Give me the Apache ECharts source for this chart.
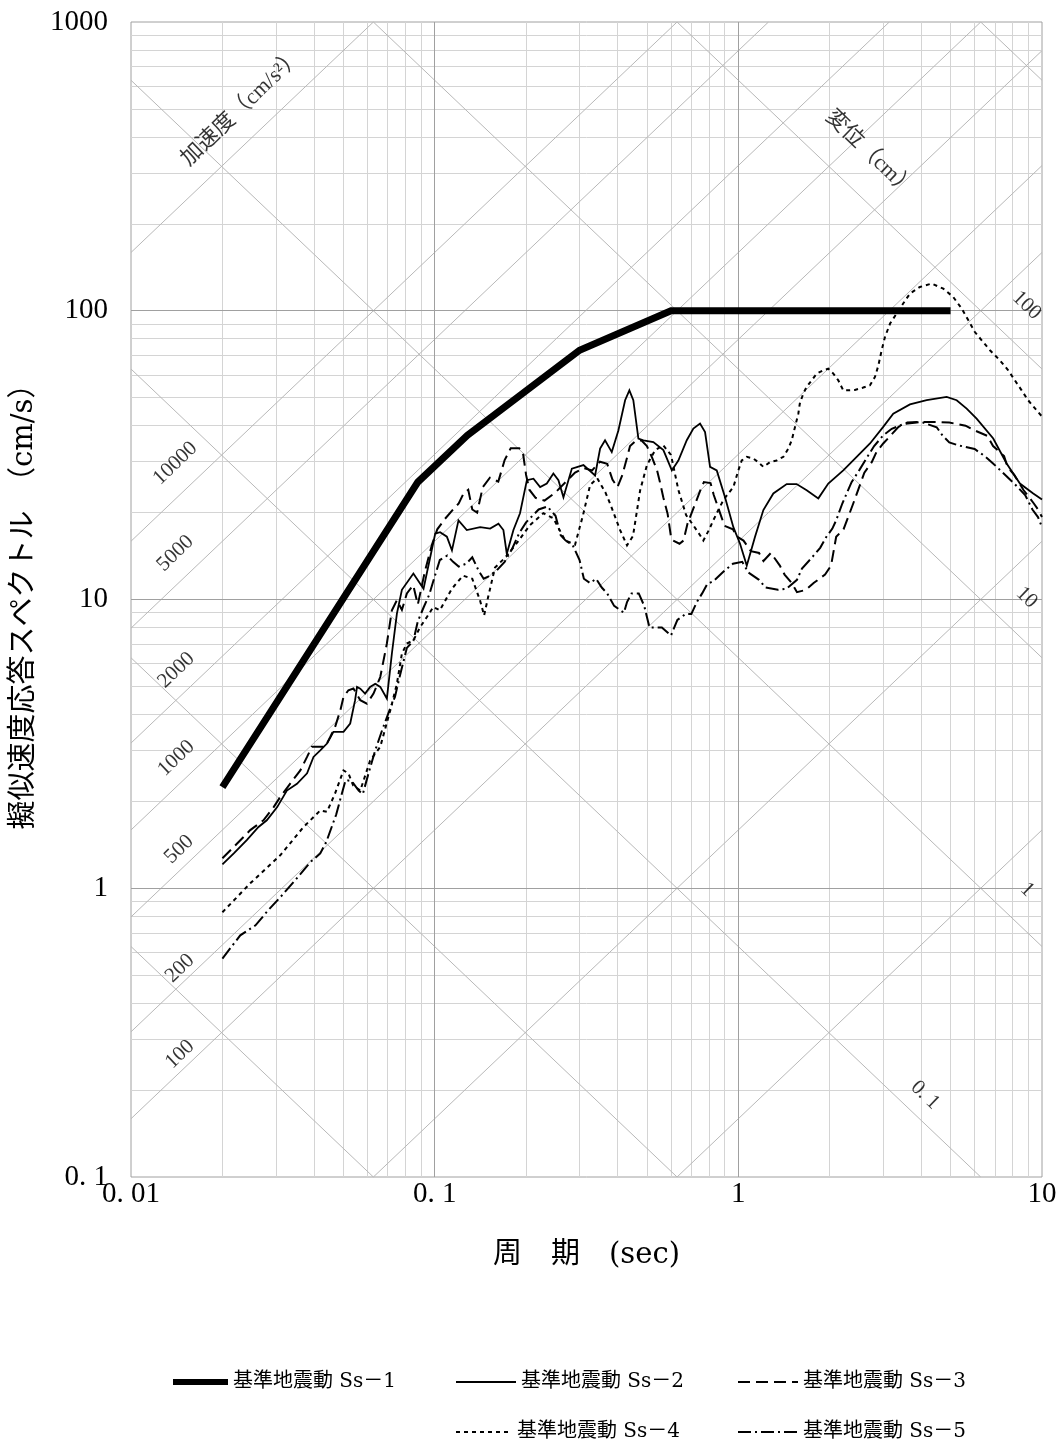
<!DOCTYPE html>
<html><head><meta charset="utf-8">
<script src="https://cdn.jsdelivr.net/npm/echarts@6/dist/echarts.min.js"></script>
<style>html,body{margin:0;padding:0;background:#fff}#c{width:1062px;height:1445px}</style>
</head><body><div id="c"></div>
<script>
// ---------------- data (period T [s], pseudo velocity SV [cm/s]) ----------------
const seriesNames = ['基準地震動 Ss－1','基準地震動 Ss－2','基準地震動 Ss－3','基準地震動 Ss－4','基準地震動 Ss－5'];

const ss1 = [[0.02,2.24],[0.088,25.5],[0.128,37],[0.3,73],[0.6,100],[5,100]];

const ss2 = [[0.020,1.21],[0.0218,1.32],[0.0241,1.47],[0.0263,1.63],[0.0280,1.72],[0.0303,1.91],[0.0326,2.18],[0.0352,2.30],[0.0380,2.50],[0.0399,2.85],[0.0420,3.00],[0.0442,3.17],[0.0464,3.48],[0.0501,3.48],[0.0527,3.72],[0.0547,4.48],[0.0555,4.98],[0.0569,4.91],[0.0590,4.72],[0.0613,4.98],[0.0637,5.11],[0.0662,4.98],[0.0696,4.54],[0.0723,6.5],[0.0751,8.94],[0.078,10.8],[0.0851,12.3],[0.0919,10.9],[0.1004,16.9],[0.1042,17.1],[0.1097,16.5],[0.114,14.8],[0.1198,18.8],[0.1276,17.4],[0.1412,17.8],[0.1523,17.6],[0.1622,18.3],[0.1684,17.4],[0.1728,14.4],[0.1817,17.4],[0.191,19.9],[0.2012,25.9],[0.2115,26.2],[0.2225,24.5],[0.234,25.2],[0.246,27.3],[0.2556,25.9],[0.2655,22.6],[0.283,28.4],[0.309,29.2],[0.3375,26.9],[0.3506,33.3],[0.364,35.6],[0.383,32.4],[0.4027,38.5],[0.4238,49],[0.4377,53],[0.451,49],[0.4687,36.1],[0.4867,35.6],[0.525,35.1],[0.5665,32.9],[0.604,28.0],[0.6346,30.3],[0.6764,35.6],[0.711,39.1],[0.748,40.7],[0.777,38.0],[0.807,28.8],[0.849,28.0],[0.904,22.6],[0.963,17.8],[1.013,15.6],[1.066,13.1],[1.135,16.5],[1.209,20.4],[1.304,23.3],[1.443,25.1],[1.556,25.1],[1.679,23.9],[1.834,22.4],[1.978,25.2],[2.216,28.0],[2.453,31.2],[2.714,34.7],[3.0,39.6],[3.237,44.0],[3.674,47.4],[4.171,49.0],[4.853,50.3],[5.236,49.0],[5.648,45.8],[6.091,42.3],[6.909,36.1],[7.647,29.6],[8.459,25.2],[9.357,23.3],[10,22.2]];

const ss3 = [[0.020,1.27],[0.0218,1.39],[0.0247,1.59],[0.0273,1.72],[0.0295,1.91],[0.031,2.07],[0.0334,2.30],[0.0361,2.56],[0.038,2.85],[0.0394,3.09],[0.0436,3.09],[0.0453,3.34],[0.047,3.62],[0.0489,4.13],[0.0501,4.60],[0.052,4.85],[0.054,4.92],[0.0569,4.48],[0.0598,4.36],[0.0629,4.72],[0.0662,5.39],[0.0696,7.04],[0.0723,9.18],[0.0751,9.94],[0.078,9.2],[0.081,10.5],[0.085,11.2],[0.088,9.6],[0.093,12.6],[0.098,15.5],[0.102,17.5],[0.108,19.0],[0.115,20.5],[0.12,21.5],[0.1245,23.3],[0.129,24.0],[0.133,20.5],[0.138,20.0],[0.144,24.5],[0.152,26.4],[0.162,25.6],[0.17,30.4],[0.178,33.4],[0.19,33.4],[0.195,32.6],[0.2,27],[0.205,24],[0.215,22.5],[0.23,22],[0.25,23.5],[0.27,25.5],[0.29,27.5],[0.31,28.5],[0.33,28],[0.35,30],[0.37,29.5],[0.385,26],[0.4,24.5],[0.415,27],[0.43,31],[0.44,34],[0.46,35.5],[0.48,35.5],[0.5,34],[0.52,31],[0.54,28],[0.55,25.9],[0.566,22.6],[0.585,19.8],[0.6,16.5],[0.61,16.0],[0.64,15.6],[0.66,16],[0.68,18.3],[0.7,19.8],[0.75,23.9],[0.77,25.5],[0.81,25.3],[0.83,23.0],[0.88,19.3],[0.9,18.0],[0.96,17.5],[0.99,16.5],[1.04,16.0],[1.1,14.7],[1.17,14.5],[1.21,13.6],[1.28,14.5],[1.37,13.1],[1.42,12.2],[1.5,11.4],[1.56,10.6],[1.67,10.8],[1.77,11.4],[1.93,12.2],[2.02,13.1],[2.1,16.5],[2.22,17.5],[2.3,19.3],[2.39,21.5],[2.5,24.5],[2.6,27.5],[2.75,29.9],[2.85,32.4],[3.0,34.7],[3.16,36.8],[3.37,39.6],[3.6,41],[4.0,41.2],[4.5,41.2],[4.95,41],[5.6,40],[6.0,38.5],[6.6,36.9],[6.9,34],[7.5,31.4],[7.7,28.8],[8.1,27.0],[8.7,23.9],[9.4,21.5],[9.7,20.5],[10,19.3]];

const ss4 = [[0.020,0.826],[0.0247,1.04],[0.031,1.30],[0.037,1.63],[0.042,1.86],[0.0442,1.84],[0.047,2.13],[0.0501,2.56],[0.052,2.50],[0.0539,2.27],[0.0569,2.18],[0.0613,2.77],[0.0662,3.09],[0.0714,4.13],[0.0751,5.11],[0.078,6.5],[0.081,7.04],[0.0851,7.22],[0.0896,8.03],[0.0943,8.7],[0.099,9.42],[0.104,9.18],[0.114,10.9],[0.124,12.1],[0.133,11.8],[0.141,9.94],[0.1455,8.81],[0.15,10.2],[0.158,12.9],[0.171,14.0],[0.184,15.4],[0.206,18.1],[0.228,19.9],[0.246,19.1],[0.269,16.0],[0.29,15.5],[0.308,19.6],[0.325,24.9],[0.343,26.3],[0.365,23.5],[0.38,21.2],[0.408,17.4],[0.43,15.4],[0.45,16.6],[0.475,23.9],[0.50,29.2],[0.532,32.9],[0.566,34.2],[0.60,31.7],[0.635,23.9],[0.673,19.6],[0.71,18.1],[0.748,16.7],[0.767,16.0],[0.80,17.4],[0.827,18.8],[0.859,20.4],[0.893,22.1],[0.927,23.3],[0.963,24.5],[1.0,28.0],[1.026,30.3],[1.066,31.2],[1.12,30.8],[1.163,29.9],[1.209,28.8],[1.272,29.9],[1.338,30.3],[1.407,31.2],[1.461,33.3],[1.499,35.6],[1.537,39.6],[1.576,44.0],[1.594,47.7],[1.637,51.7],[1.679,54.5],[1.744,57.4],[1.812,60.6],[1.905,62.2],[1.978,63.0],[2.055,60.6],[2.134,57.4],[2.216,53.0],[2.302,53.0],[2.42,53.2],[2.579,54.2],[2.714,55.2],[2.818,59.0],[2.89,64.5],[2.965,73.0],[3.04,81.1],[3.16,90.3],[3.32,97.7],[3.49,105.9],[3.674,114.7],[3.963,120.9],[4.33,124.2],[4.73,119.3],[5.1,111.6],[5.44,101.7],[5.72,92.7],[6.01,84.4],[6.33,79.0],[6.74,73.0],[7.27,67.3],[7.74,62.2],[8.14,57.4],[8.57,53.0],[9.0,49.0],[9.6,45.2],[10,43.0]];

const ss5 = [[0.020,0.571],[0.0229,0.687],[0.0257,0.744],[0.0283,0.839],[0.031,0.93],[0.0347,1.065],[0.0389,1.23],[0.042,1.32],[0.044,1.45],[0.0458,1.63],[0.0474,1.80],[0.049,2.05],[0.0509,2.37],[0.0533,2.35],[0.0562,2.18],[0.058,2.12],[0.0603,2.46],[0.0637,3.0],[0.0671,3.52],[0.0714,4.2],[0.074,4.6],[0.077,5.5],[0.081,6.8],[0.0851,7.2],[0.088,8.4],[0.092,9.4],[0.096,10.4],[0.1,12.0],[0.104,13.7],[0.11,14.2],[0.115,13.5],[0.12,13.0],[0.127,13.3],[0.133,14.0],[0.14,12.5],[0.145,11.8],[0.15,12.0],[0.16,12.6],[0.17,13.5],[0.18,15],[0.19,17],[0.2,18.5],[0.21,19.5],[0.22,20.5],[0.235,21],[0.25,19.5],[0.26,16.7],[0.27,16.0],[0.285,15.4],[0.3,13.7],[0.31,11.8],[0.325,11.4],[0.34,11.8],[0.355,11.0],[0.37,10.5],[0.39,9.5],[0.42,9.0],[0.43,9.8],[0.445,10.5],[0.47,10.5],[0.49,9.5],[0.50,8.7],[0.51,8.0],[0.53,8.0],[0.56,8.0],[0.6,7.5],[0.63,8.5],[0.67,8.9],[0.7,8.9],[0.73,9.8],[0.76,10.5],[0.79,11.3],[0.83,11.6],[0.88,12.3],[0.91,12.7],[0.96,13.3],[1.03,13.5],[1.08,12.4],[1.17,11.7],[1.23,11.0],[1.35,10.8],[1.44,10.9],[1.56,11.7],[1.62,12.8],[1.75,14.0],[1.86,15.1],[1.95,16.5],[2.04,17.6],[2.1,18.8],[2.2,21.5],[2.36,25.5],[2.5,28.0],[2.65,31],[2.8,34],[3.0,37],[3.2,39],[3.5,40.5],[4.0,41.2],[4.5,39.5],[4.7,37],[4.95,35],[5.3,34.2],[6.0,33.2],[6.5,31.3],[6.9,29.6],[7.4,27.6],[8.1,25.2],[8.8,23.0],[9.3,20.5],[9.7,19.3],[10,17.8]];

// axes / tick labels
const xExps = [-2,-1,0,1];
const xTickLabels = ['0. 01','0. 1','1','10'];
const yExps = [-1,0,1,2,3];
const yTickLabels = ['0. 1','1','10','100','1000'];
const xName = '周　期　(sec)';
const yName = '擬似速度応答スペクトル　（cm/s）';

// tripartite grid values
const accelValues = [1,10,100,200,500,1000,2000,5000,10000,100000]; // cm/s^2
const dispValues = [0.001,0.01,0.1,1,10,100,1000];                // cm

// diagonal-scale labels: text and anchor [T, SV]
const accelLabels = ['10000','5000','2000','1000','500','200','100'];
const accelLabelAt = [[0.0140,29.6],[0.0140,14.45],[0.0141,5.69],[0.0141,2.82],[0.0144,1.364],[0.0145,0.528],[0.0145,0.266]];
const dispLabels = ['100','10','1','0. 1'];
const dispLabelAt = [[8.9,104.4],[8.9,10.15],[8.93,0.989],[4.12,0.192]];
const accelTitle = '加速度（cm/s²）';
const accelTitleAt = [0.0232,505];
const dispTitle = '変位（cm）';
const dispTitleAt = [2.714,350];

// ---------------- build ----------------
const SERIF = '"Liberation Serif","Noto Sans CJK JP",serif';
const WIDE = '"DejaVu Serif","Noto Sans CJK JP",serif';
const CJK = '"Liberation Serif","Noto Sans CJK JP",sans-serif';
const LOG2PI = Math.log10(2*Math.PI);
const TMIN=-2, TMAX=1, VMIN=-1, VMAX=3;

const minorLines=[], majorLines=[], diagLines=[];
for (let d=TMIN; d<TMAX; d++) for (let m=1;m<=9;m++){
  const v=m*Math.pow(10,d); if (m===1 && d===TMIN) continue;
  (m===1?majorLines:minorLines).push({coords:[[v,Math.pow(10,VMIN)],[v,Math.pow(10,VMAX)]]});
}
for (let d=VMIN; d<VMAX; d++) for (let m=1;m<=9;m++){
  const v=m*Math.pow(10,d); if (m===1 && d===VMIN) continue;
  (m===1?majorLines:minorLines).push({coords:[[Math.pow(10,TMIN),v],[Math.pow(10,TMAX),v]]});
}
accelValues.forEach(A=>{
  const la=Math.log10(A);
  const t0=Math.max(TMIN, VMIN-la+LOG2PI), t1=Math.min(TMAX, VMAX-la+LOG2PI);
  if (t1>t0) diagLines.push({coords:[[10**t0,10**(la+t0-LOG2PI)],[10**t1,10**(la+t1-LOG2PI)]]});
});
dispValues.forEach(D=>{
  const ld=Math.log10(D);
  const t0=Math.max(TMIN, LOG2PI+ld-VMAX), t1=Math.min(TMAX, LOG2PI+ld-VMIN);
  if (t1>t0) diagLines.push({coords:[[10**t0,10**(LOG2PI+ld-t0)],[10**t1,10**(LOG2PI+ld-t1)]]});
});

function gridSeries(data,color,z){
  return {type:'lines',coordinateSystem:'cartesian2d',polyline:false,silent:true,animation:false,z:z,
    lineStyle:{color:color,width:1,opacity:1,curveness:0},data:data,effect:{show:false}};
}
function textSeries(points,texts,rot,size){
  return {type:'scatter',silent:true,animation:false,z:4,symbol:'circle',symbolSize:1,
    itemStyle:{color:'rgba(0,0,0,0)'},
    data:points.map((p,i)=>({value:p,label:{formatter:texts[i]}})),
    label:{show:true,position:'inside',rotate:rot,fontSize:size,fontFamily:CJK,color:'#000'}};
}
const styles = [
  {width:7,type:'solid'},
  {width:1.8,type:'solid'},
  {width:2,type:[12,6]},
  {width:2,type:[4,4]},
  {width:2,type:[13,4,2,4]}
];
const dataSets=[ss1,ss2,ss3,ss4,ss5];
const dataSeries = dataSets.map((d,i)=>({
  name:seriesNames[i],type:'line',data:d,symbol:'none',showSymbol:false,animation:false,z:10+(i===0?5:i),
  lineStyle:{color:'#000',width:styles[i].width,type:styles[i].type,cap:'butt',join:'miter'},
  itemStyle:{color:'#000'}
}));

const legendPos = [[170,1372,55],[455,1372,60],[737,1372,60],[455,1422,56],[737,1422,60]];
const legends = seriesNames.map((n,i)=>({
  data:[n],left:legendPos[i][0],top:legendPos[i][1],itemWidth:legendPos[i][2],itemHeight:14,
  selectedMode:false,padding:0,
  itemStyle:{opacity:0,borderWidth:0},
  lineStyle:{width:styles[i].width===7?6:2},
  textStyle:{fontSize:20,color:'#000',fontFamily:WIDE}
}));

const chart = echarts.init(document.getElementById('c'),null,{renderer:'canvas'});
chart.setOption({
  backgroundColor:'#fff',
  animation:false,
  grid:{left:131,top:22,width:911,height:1155,show:true,borderColor:'#a0a0a0',borderWidth:1,backgroundColor:'#fff',outerBoundsMode:'none'},
  legend:legends,
  xAxis:{type:'log',logBase:10,min:0.01,max:10,
    name:xName,nameLocation:'middle',nameGap:64,
    nameTextStyle:{fontSize:29,fontFamily:WIDE,color:'#000'},
    axisLine:{show:false},axisTick:{show:false},splitLine:{show:false},
    axisLabel:{margin:3,fontSize:29,fontFamily:SERIF,color:'#000',
      formatter:v=>{const k=xExps.indexOf(Math.round(Math.log10(v)));return k<0?'':xTickLabels[k];}}},
  yAxis:{type:'log',logBase:10,min:0.1,max:1000,
    name:yName,nameLocation:'middle',nameGap:89,nameRotate:90,
    nameTextStyle:{fontSize:29,fontFamily:WIDE,color:'#000'},
    axisLine:{show:false},axisTick:{show:false},splitLine:{show:false},
    axisLabel:{margin:23,fontSize:29,fontFamily:SERIF,color:'#000',
      formatter:v=>{const k=yExps.indexOf(Math.round(Math.log10(v)));return k<0?'':yTickLabels[k];}}},
  series:[
    gridSeries(minorLines,'#d4d4d4',1),
    gridSeries(diagLines,'#b8b8b8',2),
    gridSeries(majorLines,'#a0a0a0',3),
    textSeries(accelLabelAt,accelLabels,44,21),
    textSeries(dispLabelAt,dispLabels,-44,21),
    textSeries([accelTitleAt],[accelTitle],44,22),
    textSeries([dispTitleAt],[dispTitle],-44,22),
    ...dataSeries
  ]
});
</script></body></html>
